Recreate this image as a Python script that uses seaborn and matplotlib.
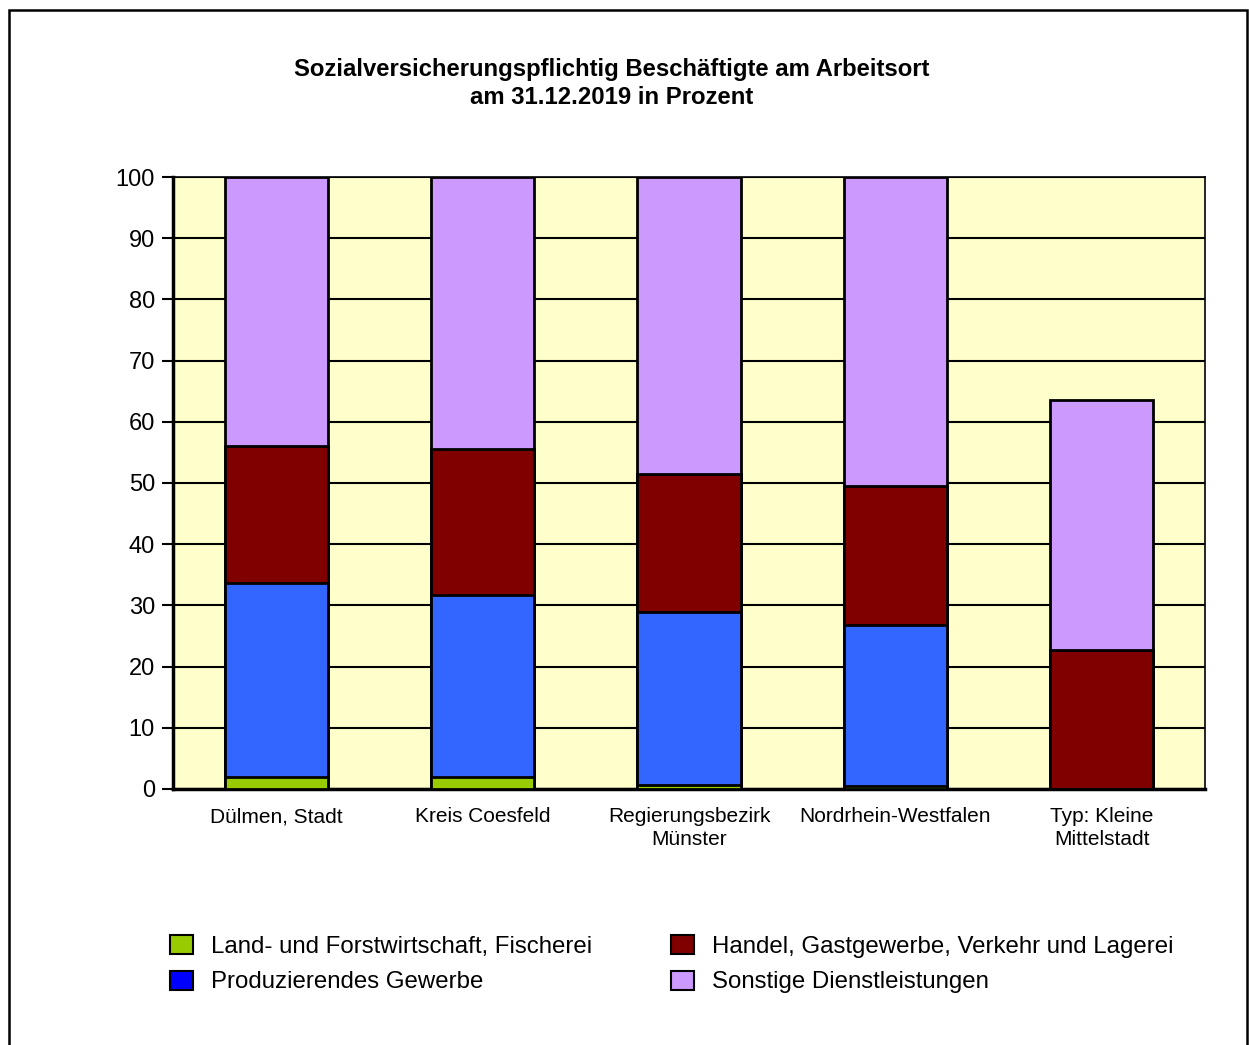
import numpy as np
import pandas as pd
import matplotlib
matplotlib.use("Agg")
import matplotlib.pyplot as plt
import seaborn as sns
from matplotlib.patches import Rectangle, Patch

regionen = ["Dülmen, Stadt", "Kreis Coesfeld", "Regierungsbezirk\nMünster",
            "Nordrhein-Westfalen", "Typ: Kleine\nMittelstadt"]
land_forst = [2.0, 1.9, 0.7, 0.5, 0.0]
produzierend = [31.6, 29.8, 28.3, 26.3, 0.0]
handel = [22.5, 23.9, 22.5, 22.7, 22.7]
sonstige = [43.9, 44.4, 48.5, 50.5, 40.9]

reihen = ["Land- und Forstwirtschaft, Fischerei", "Produzierendes Gewerbe",
          "Handel, Gastgewerbe, Verkehr und Lagerei", "Sonstige Dienstleistungen"]
farben = ["#99CC00", "#3366FF", "#800000", "#CC99FF"]
legende_farben = ["#99CC00", "#0000FF", "#800000", "#CC99FF"]

sns.set_theme(style="white")
plt.rcParams["font.family"] = ["Liberation Sans", "DejaVu Sans"]
plt.rcParams["text.color"] = "black"
plt.rcParams["xtick.color"] = "black"
plt.rcParams["ytick.color"] = "black"

df = pd.DataFrame({"Region": regionen, reihen[0]: land_forst, reihen[1]: produzierend,
                   reihen[2]: handel, reihen[3]: sonstige})
kumuliert = df[reihen].cumsum(axis=1)

fig = plt.figure(figsize=(12.49, 10.45), dpi=100)
ax = fig.add_axes([0.1385, 0.245, 0.8263, 0.5856])
ax.set_facecolor("#FFFFCC")

# gestapelt: höchste Summe zuerst, dann darüber die kleineren
for reihe, farbe in zip(reversed(reihen), reversed(farben)):
    sns.barplot(x=df["Region"], y=kumuliert[reihe], color=farbe, width=0.5,
                edgecolor="black", linewidth=2.0, saturation=1, ax=ax, zorder=3)

ax.set_ylim(0, 100)
ax.set_yticks(range(0, 101, 10))
ax.yaxis.grid(True, color="black", linewidth=1.5, zorder=0)
ax.set_axisbelow(True)
ax.set_xlabel("")
ax.set_ylabel("")
ax.tick_params(axis="y", labelsize=17, length=8, width=1.5, color="black", left=True, pad=5)
ax.tick_params(axis="x", labelsize=15, length=0, pad=13)
for lbl in ax.get_xticklabels():
    lbl.set_linespacing(1.25)
for s in ["left", "bottom"]:
    ax.spines[s].set_linewidth(2.5)
    ax.spines[s].set_color("black")
for s in ["top", "right"]:
    ax.spines[s].set_linewidth(1.2)
    ax.spines[s].set_color("black")

fig.text(0.49, 0.9205, "Sozialversicherungspflichtig Beschäftigte am Arbeitsort\nam 31.12.2019 in Prozent",
         ha="center", va="center", fontsize=17.2, fontweight="bold", linespacing=1.28)

handles = [Patch(facecolor=c, edgecolor="black", linewidth=1.5) for c in legende_farben]
fig.legend(handles, reihen, loc="upper left", bbox_to_anchor=(0.1206, 0.1235), ncol=2,
           frameon=False, fontsize=17.3, handlelength=0.95, handleheight=0.85,
           handletextpad=0.75, columnspacing=3.3, labelspacing=0.52, borderpad=0.3)

fig.patches.append(Rectangle((9 / 1249, -0.1), 1238 / 1249, 1.1 - 10 / 1045,
                             transform=fig.transFigure, fill=False,
                             edgecolor="black", linewidth=1.8))

fig.savefig("out.png", dpi=100)
